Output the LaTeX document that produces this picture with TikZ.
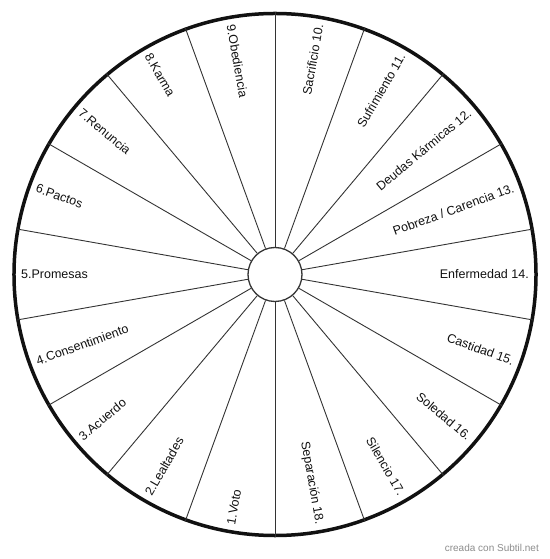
\documentclass[tikz,border=0pt]{standalone}
\usepackage{fontspec}
\setmainfont{Liberation Sans}
\usetikzlibrary{positioning}
\definecolor{Ink}{HTML}{111111}
\definecolor{Spoke}{HTML}{333333}
\definecolor{Credit}{HTML}{8C8C8C}
\tikzset{
  rim/.style={draw=Ink,circle,line width=3.5bp,minimum size=522bp,inner sep=0pt},
  hub/.style={draw=Ink!85,circle,line width=1.3bp,minimum size=54bp,inner sep=0pt,fill=white},
  spoke/.style={draw=Spoke,line width=0.9bp},
  lbl/.style={font=\fontsize{12.5bp}{15bp}\selectfont,text=Ink,inner sep=0pt},
  credit/.style={font=\fontsize{10bp}{12bp}\selectfont,text=Credit,inner sep=0pt}
}

\begin{document}
\begin{tikzpicture}[x=1bp,y=1bp]
  \useasboundingbox (-275,-284.5) rectangle (275,274.5);
  \node[rim] (rim) at (0,0) {};
  \node[hub] (hub) at (0,0) {};
  % spokes between the sectors
  \foreach \a in {10,30,...,350}
    \draw[spoke] (hub.\a) -- (rim.\a);
  % left half, read towards the hub
  \foreach \i/\txt [evaluate=\i as \ang using 280-20*\i] in
      {1/Voto,2/Lealtades,3/Acuerdo,4/Consentimiento,5/Promesas,
       6/Pactos,7/Renuncia,8/Karma,9/Obediencia}
    \node[lbl,anchor=west,rotate=\ang+180] (l\i) at (\ang:254) {\i.\txt};
  % right half, read towards the rim
  \foreach \i/\txt [evaluate=\i as \ang using 280-20*\i] in
      {10/Sacrificio,11/Sufrimiento,12/Deudas Kármicas,13/{Pobreza / Carencia},
       14/Enfermedad,15/Castidad,16/Soledad,17/Silencio,18/Separación}
    \node[lbl,anchor=east,rotate=\ang] (l\i) at (\ang:254) {\txt\ \i.};
  \node[credit,anchor=east] (credit) at (264,-273.5) {creada con Subtil.net};
\end{tikzpicture}
\end{document}
